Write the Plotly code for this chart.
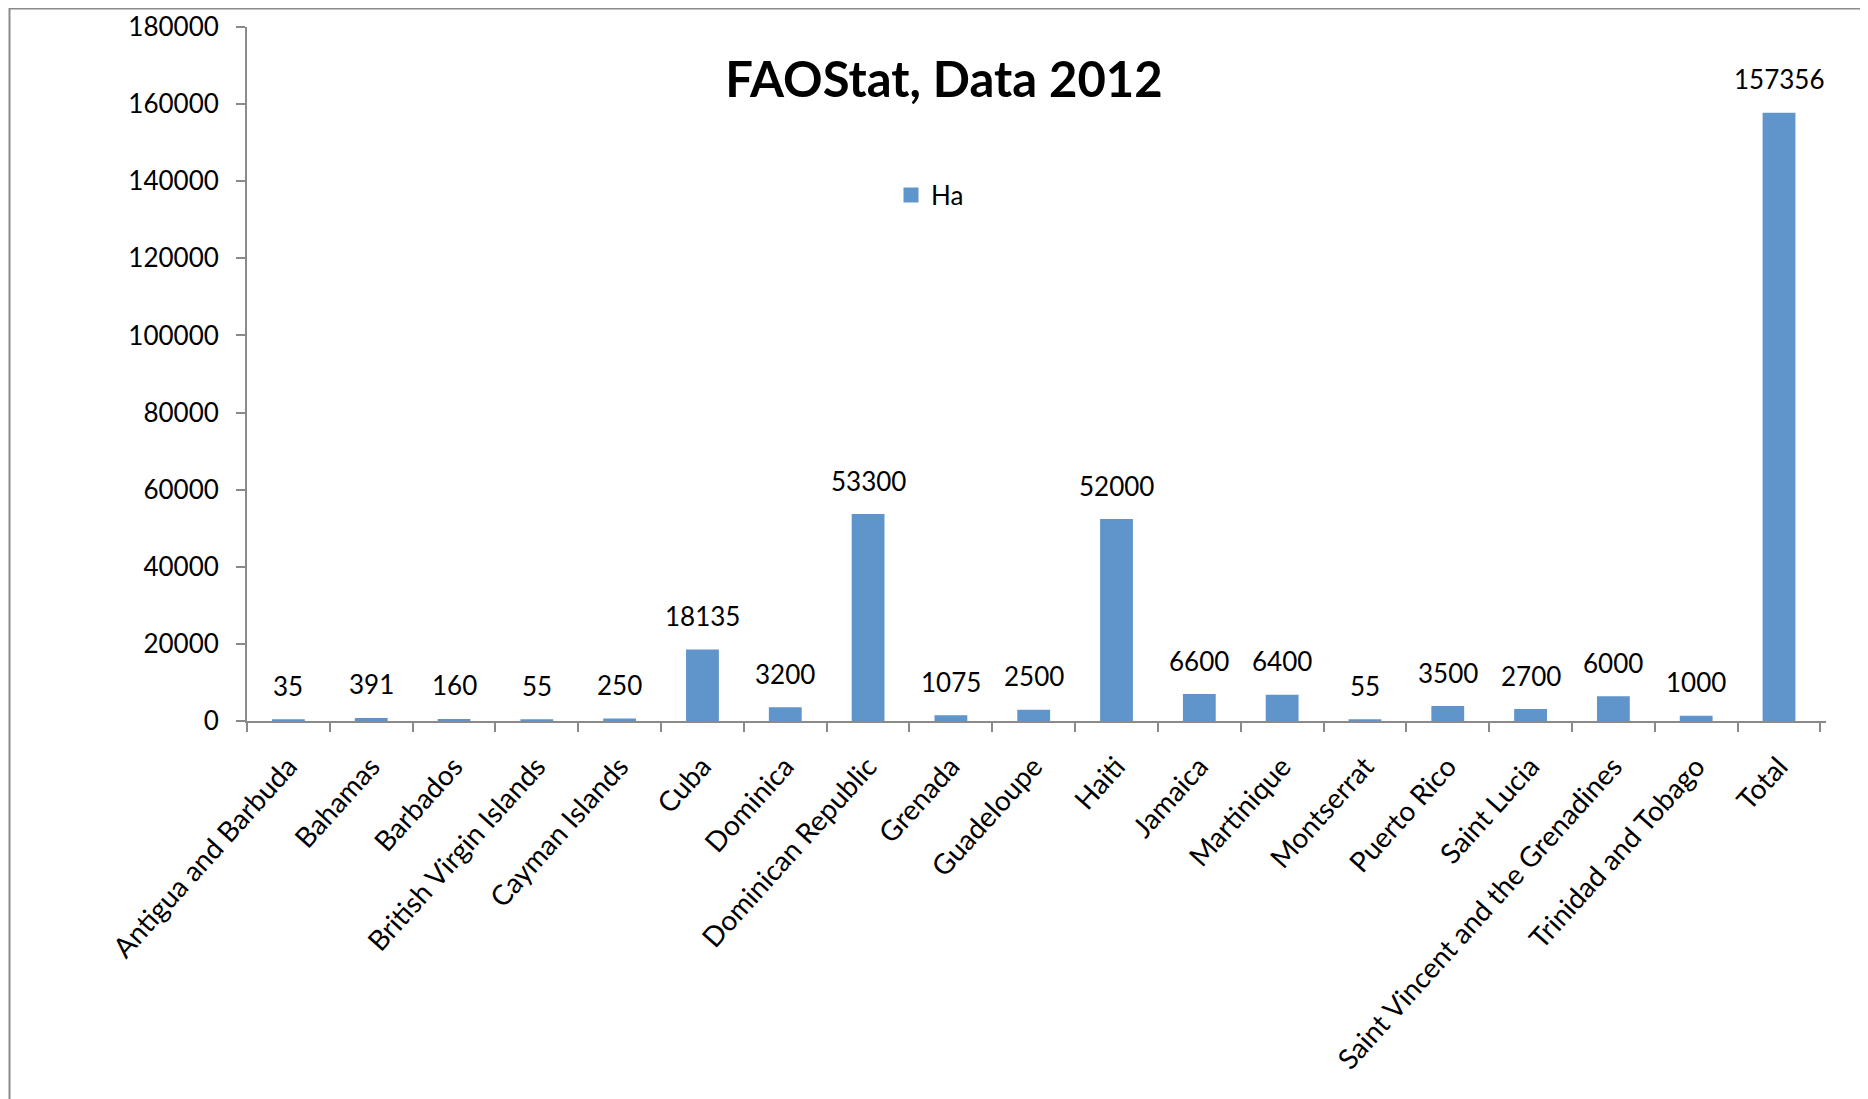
import plotly.graph_objects as go

categories = ["Antigua and Barbuda", "Bahamas", "Barbados", "British Virgin Islands",
              "Cayman Islands", "Cuba", "Dominica", "Dominican Republic", "Grenada",
              "Guadeloupe", "Haiti", "Jamaica", "Martinique", "Montserrat", "Puerto Rico",
              "Saint Lucia", "Saint Vincent and the Grenadines", "Trinidad and Tobago", "Total"]
ha_values = [35, 391, 160, 55, 250, 18135, 3200, 53300, 1075, 2500, 52000, 6600, 6400,
             55, 3500, 2700, 6000, 1000, 157356]
y_ticks = [0, 20000, 40000, 60000, 80000, 100000, 120000, 140000, 160000, 180000]

# the page body adds an 8px margin, so the figure is drawn 8px smaller and offset
W, H = 1860, 1091
L, R, T, B = 239, 42, 19, 378
FONT = "Lato, Carlito, Calibri, sans-serif"
BAR = "#5F95CB"
AXIS = "#8A8A8A"

fig = go.Figure()
fig.add_trace(go.Bar(
    x=categories, y=ha_values, name="Ha",
    marker=dict(color=BAR, line=dict(color=BAR, width=3)),
    hoverinfo="x+y",
))

for c, v in zip(categories, ha_values):
    fig.add_annotation(x=c, y=v, text=str(v), showarrow=False, yanchor="bottom",
                       yshift=17, font=dict(family=FONT, size=26, color="black"))

pw = W - L - R
ph = H - T - B
fig.add_shape(type="rect", xref="paper", yref="paper",
              x0=(1.5 - L) / pw, x1=(W + 50 - L) / pw,
              y0=-(B + 50) / ph, y1=(H - B - 0.5) / ph,
              line=dict(color=AXIS, width=2), fillcolor="rgba(0,0,0,0)", layer="below")

fig.update_layout(
    width=W, height=H,
    margin=dict(l=L, r=R, t=T, b=B, autoexpand=False),
    paper_bgcolor="white", plot_bgcolor="white",
    bargap=0.64,
    font=dict(family=FONT, size=26, color="black"),
    title=dict(text="<b>FAOStat, Data 2012</b>", xref="container", x=936 / W,
               xanchor="center", yref="container", y=1 - 72 / H, yanchor="middle",
               font=dict(family=FONT, size=49, color="black")),
    showlegend=True,
    legend=dict(x=(883 - L) / pw, y=(H - B - 187) / ph, xanchor="left", yanchor="middle",
                bgcolor="rgba(0,0,0,0)", itemwidth=30,
                font=dict(family=FONT, size=26, color="black")),
    xaxis=dict(type="category", showline=True, linecolor=AXIS, linewidth=2,
               ticks="outside", tickson="boundaries", ticklen=9, tickwidth=2,
               tickcolor=AXIS, tickangle=-48, showgrid=False, zeroline=False,
               ticklabelstandoff=16,
               tickfont=dict(family=FONT, size=28, color="black")),
    yaxis=dict(range=[0, 180000], tickvals=y_ticks, ticktext=[str(t) for t in y_ticks],
               showline=True, linecolor=AXIS, linewidth=2, ticks="outside",
               ticklen=9, tickwidth=2, tickcolor=AXIS, showgrid=False, zeroline=False,
               ticklabelstandoff=12,
               tickfont=dict(family=FONT, size=26, color="black")),
)

fig.write_html("out.html")
